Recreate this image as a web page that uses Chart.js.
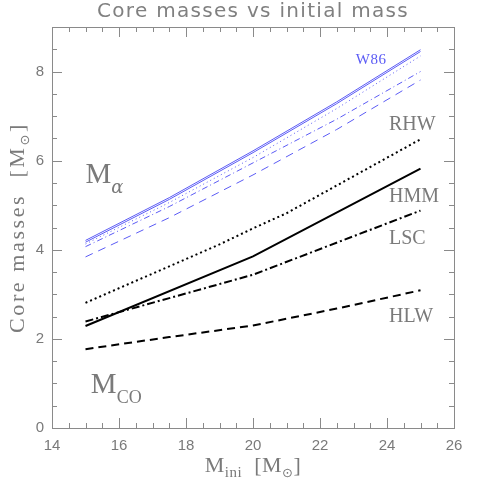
<!DOCTYPE html>
<html><head><meta charset="utf-8">
<script src="https://cdn.jsdelivr.net/npm/chart.js@4/dist/chart.umd.min.js"></script>
<style>html,body{margin:0;padding:0;background:#fff}#wrap{width:480px;height:480px}</style>
</head><body><div id="wrap"><canvas id="c" width="480" height="480"></canvas></div>
<script>
// ---- data ----
const massW86 = [15, 17.5, 20, 22.5, 25];
const w86a = [4.21, 5.17, 6.22, 7.32, 8.49];
const w86b = [4.17, 5.13, 6.18, 7.28, 8.45];
const w86c = [4.13, 5.06, 6.07, 7.17, 8.35];
const w86d = [4.07, 4.97, 5.95, 6.93, 8.00];
const w86e = [3.84, 4.72, 5.68, 6.70, 7.81];
const massRHW = [15, 19, 20, 21, 25];
const rhw = [2.81, 4.12, 4.48, 4.82, 6.48];
const massHMM = [15, 20, 25];
const hmm = [2.29, 3.85, 5.82];
const massLSC = [15, 20, 25];
const lsc = [2.39, 3.44, 4.88];
const massHLW = [15, 17.5, 20, 22.5, 25];
const hlw = [1.77, 2.04, 2.30, 2.68, 3.09];
const xTickLabels = [14, 16, 18, 20, 22, 24, 26];
const yTickLabels = [0, 2, 4, 6, 8];

const GRAY = '#7a7a7a';
const FRAME = '#8a8a8a';
const BLUE = '#5b5bf5';

function pts(xs, ys) { return xs.map((x, i) => ({x: x, y: ys[i]})); }
function ds(label, xs, ys, color, width, dash) {
  return {label: label, data: pts(xs, ys), borderColor: color, borderWidth: width,
    borderDash: dash, pointRadius: 0, tension: 0, fill: false, borderCapStyle: 'butt'};
}

const datasets = [
  ds('W86 a', massW86, w86a, BLUE, 1, []),
  ds('W86 b', massW86, w86b, BLUE, 1, []),
  ds('W86 c', massW86, w86c, BLUE, 1, [1, 3]),
  ds('W86 d', massW86, w86d, BLUE, 1, [6, 3, 1, 3]),
  ds('W86 e', massW86, w86e, BLUE, 1, [8, 6]),
  ds('RHW', massRHW, rhw, '#000', 2, [2, 3]),
  ds('HMM', massHMM, hmm, '#000', 2, []),
  ds('LSC', massLSC, lsc, '#000', 2, [8, 3, 2, 3]),
  ds('HLW', massHLW, hlw, '#000', 2, [8, 5])
];

function richWidth(ctx, parts, ls) {
  let w = 0;
  for (const p of parts) { ctx.font = p.font; ctx.letterSpacing = ls + 'px'; w += ctx.measureText(p.t).width; }
  return w;
}
function drawRich(ctx, parts, x, y, align, ls) {
  ls = ls || 0;
  const w = richWidth(ctx, parts, ls);
  let cx = align === 'center' ? x - w / 2 : x;
  ctx.textAlign = 'left'; ctx.textBaseline = 'alphabetic';
  for (const p of parts) {
    ctx.font = p.font; ctx.letterSpacing = ls + 'px';
    ctx.fillStyle = p.color || GRAY;
    ctx.fillText(p.t, cx, y + (p.dy || 0));
    cx += ctx.measureText(p.t).width;
  }
  ctx.letterSpacing = '0px';
}

const framePlugin = {
  id: 'frameTicks',
  afterLayout(chart) {
    const tb = chart.titleBlock;
    if (tb && !tb._lsPatched) {
      const orig = tb.draw;
      tb.draw = function (a) { const c = this.ctx; c.save(); c.letterSpacing = '1.3px'; orig.call(this, a); c.restore(); };
      tb._lsPatched = true;
    }
  },
  afterDatasetsDraw(chart) {
    const ctx = chart.ctx, a = chart.chartArea, xs = chart.scales.x, ys = chart.scales.y;
    ctx.save();
    ctx.strokeStyle = FRAME; ctx.lineWidth = 1;
    ctx.strokeRect(Math.round(a.left) + 0.5, Math.round(a.top) + 0.5, Math.round(a.right - a.left), Math.round(a.bottom - a.top));
    ctx.beginPath();
    for (let v = xs.min; v <= xs.max + 1e-9; v += 0.5) {
      const px = Math.round(xs.getPixelForValue(v)) + 0.5;
      const L = (Math.abs(v % 2) < 1e-9) ? 10 : 5;
      ctx.moveTo(px, a.bottom); ctx.lineTo(px, a.bottom - L);
      ctx.moveTo(px, a.top); ctx.lineTo(px, a.top + L);
    }
    for (let v = ys.min; v <= ys.max + 1e-9; v += 0.5) {
      const py = Math.round(ys.getPixelForValue(v)) + 0.5;
      const L = (Math.abs(v % 2) < 1e-9) ? 10 : 5;
      ctx.moveTo(a.left, py); ctx.lineTo(a.left + L, py);
      ctx.moveTo(a.right, py); ctx.lineTo(a.right - L, py);
    }
    ctx.stroke();

    const X = v => xs.getPixelForValue(v), Y = v => ys.getPixelForValue(v);
    const lab = '20px "Liberation Serif"';
    drawRich(ctx, [{t: 'RHW', font: lab}], X(24.06), Y(6.69), 'left');
    drawRich(ctx, [{t: 'HMM', font: lab}], X(24.06), Y(5.08), 'left');
    drawRich(ctx, [{t: 'LSC', font: lab}], X(24.06), Y(4.12), 'left');
    drawRich(ctx, [{t: 'HLW', font: lab}], X(24.06), Y(2.37), 'left');
    drawRich(ctx, [{t: 'W86', font: '15px "Liberation Serif"', color: BLUE}], X(23.07), Y(8.17), 'left', 0.5);
    drawRich(ctx, [{t: 'M', font: '29px "Liberation Serif"'}, {t: 'α', font: 'italic 18px "DejaVu Serif"', dy: 10}], X(15.0), Y(5.49), 'left');
    drawRich(ctx, [{t: 'M', font: '29px "Liberation Serif"'}, {t: 'CO', font: '18px "Liberation Serif"', dy: 10}], X(15.16), Y(0.78), 'left');

    // axis titles
    const big = '22px "Liberation Serif"', sub = '15px "Liberation Serif"';
    drawRich(ctx, [{t: 'M', font: big}, {t: 'ini', font: sub, dy: 5}, {t: '  [M', font: big}, {t: '⊙', font: '13px "DejaVu Sans"', dy: 5}, {t: ']', font: big}],
      (a.left + a.right) / 2, 472, 'center', 0.5);
    ctx.translate(24, (a.top + a.bottom) / 2);
    ctx.rotate(-Math.PI / 2);
    drawRich(ctx, [{t: 'Core masses  [M', font: big}, {t: '⊙', font: '13px "DejaVu Sans"', dy: 5}, {t: ']', font: big}], 0, 0, 'center', 2.6);
    ctx.restore();
  }
};

new Chart(document.getElementById('c'), {
  type: 'line',
  data: {datasets: datasets},
  plugins: [framePlugin],
  options: {
    responsive: false, animation: false, devicePixelRatio: 1,
    layout: {padding: {left: 0, right: 26, top: 0, bottom: 0}},
    plugins: {
      legend: {display: false}, tooltip: {enabled: false},
      title: {display: true, text: 'Core masses vs initial mass', fullSize: false, color: '#808080',
        font: {family: 'DejaVu Sans', size: 20, weight: 'normal', lineHeight: 1.2}, padding: {top: 0, bottom: 3}}
    },
    scales: {
      x: {type: 'linear', min: 14, max: 26,
        grid: {display: false, drawTicks: false}, border: {display: false},
        afterFit: s => { s.height = 52; },
        afterBuildTicks: s => { s.ticks = xTickLabels.map(v => ({value: v})); },
        ticks: {color: GRAY, padding: 9, maxRotation: 0, font: {family: 'Liberation Sans', size: 15}}},
      y: {type: 'linear', min: 0, max: 9,
        grid: {display: false, drawTicks: false}, border: {display: false},
        afterFit: s => { s.width = 52; },
        afterBuildTicks: s => { s.ticks = yTickLabels.map(v => ({value: v})); },
        ticks: {color: GRAY, padding: 8, font: {family: 'Liberation Sans', size: 15}}}
    }
  }
});
</script></body></html>
